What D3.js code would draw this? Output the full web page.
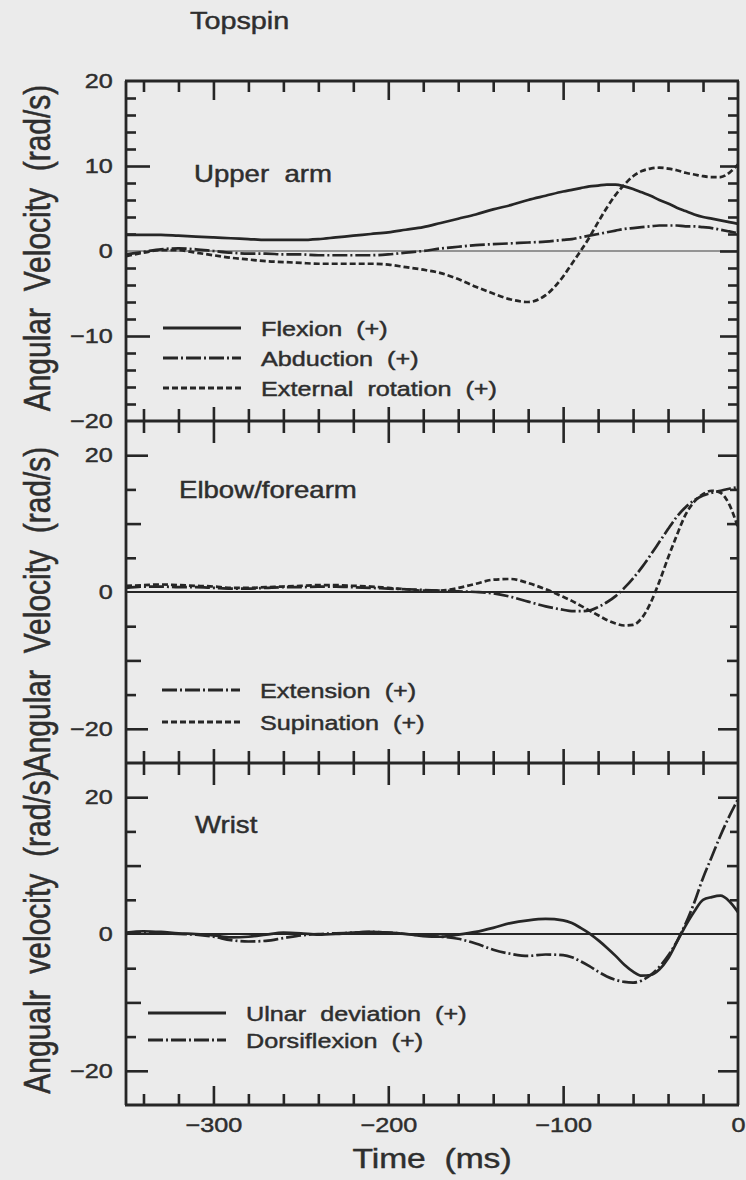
<!DOCTYPE html>
<html>
<head>
<meta charset="utf-8">
<script src="https://cdnjs.cloudflare.com/ajax/libs/d3/7.8.5/d3.min.js"></script>
<style>
  body { margin: 0; background: #ebebeb; }
  svg { display: block; }
  text { font-family: "Liberation Sans", Arial, sans-serif; fill: #2e2e2e; stroke: #2e2e2e; stroke-width: 0.45; white-space: pre; }
</style>
</head>
<body>
<svg></svg>
<script>
// time before impact (ms), shared by every curve
var timeMs = [-350,-340,-330,-320,-310,-300,-290,-280,-270,-260,-250,-240,-230,-220,-210,-200,-190,-180,-170,-160,
  -150,-140,-130,-120,-110,-100,-95,-90,-85,-80,-75,-70,-65,-60,-55,-50,-45,-40,-35,-30,-25,-20,-15,-10,-5,0];

// upper arm (rad/s)
var flexion = [1.9,1.9,1.9,1.8,1.7,1.6,1.5,1.4,1.3,1.3,1.3,1.4,1.6,1.8,2.0,2.2,2.5,2.8,3.3,3.8,
  4.3,4.9,5.4,6.0,6.5,7.0,7.2,7.4,7.6,7.7,7.8,7.8,7.6,7.3,6.9,6.5,6.0,5.6,5.1,4.7,4.3,4.0,3.8,3.6,3.4,3.2];
var abduction = [-0.4,-0.1,0.2,0.3,0.2,0.0,-0.2,-0.3,-0.3,-0.4,-0.4,-0.5,-0.5,-0.5,-0.5,-0.4,-0.2,0.0,0.3,0.5,
  0.7,0.8,0.9,1.0,1.1,1.3,1.4,1.6,1.8,2.0,2.2,2.4,2.6,2.7,2.8,2.9,3.0,3.0,3.0,2.9,2.9,2.8,2.7,2.5,2.3,2.1];
var externalRotation = [-0.6,-0.2,0.1,0.1,-0.2,-0.5,-0.8,-1.0,-1.2,-1.3,-1.4,-1.5,-1.5,-1.5,-1.5,-1.6,-1.9,-2.2,-2.6,-3.3,
  -4.2,-5.0,-5.7,-6.0,-5.2,-3.0,-1.5,0.0,1.6,3.4,5.1,6.6,7.8,8.8,9.4,9.7,9.8,9.7,9.5,9.2,9.0,8.8,8.7,8.7,9.2,10.2];

// elbow / forearm
var extension = [0.6,0.8,0.8,0.7,0.7,0.6,0.5,0.5,0.6,0.7,0.7,0.8,0.8,0.7,0.6,0.5,0.4,0.3,0.2,0.1,
  0.0,-0.2,-0.7,-1.4,-2.1,-2.6,-2.8,-2.8,-2.7,-2.2,-1.5,-0.6,0.6,2.0,3.6,5.4,7.3,9.2,11.0,12.4,13.4,14.1,14.5,14.8,15.1,15.3];
var supination = [0.9,1.0,1.1,1.0,0.9,0.8,0.6,0.6,0.7,0.8,0.9,1.0,1.0,0.9,0.8,0.6,0.4,0.2,0.2,0.6,
  1.2,1.8,1.9,1.3,0.4,-0.7,-1.3,-2.0,-2.7,-3.4,-4.1,-4.6,-4.9,-4.8,-3.8,-1.6,1.5,5.0,8.3,11.3,13.2,14.3,14.8,14.5,12.8,9.4];

// wrist
var ulnarDeviation = [0.2,0.4,0.3,0.1,0.0,-0.2,-0.5,-0.4,-0.1,0.2,0.1,-0.1,0.0,0.2,0.3,0.2,0.0,-0.3,-0.4,-0.1,
  0.3,0.9,1.6,2.0,2.2,2.0,1.6,0.9,0.1,-0.9,-2.0,-3.2,-4.5,-5.5,-6.1,-6.0,-5.2,-3.6,-1.2,1.2,3.3,5.0,5.4,5.6,4.8,3.2];
var dorsiflexion = [0.0,0.2,0.1,0.0,-0.1,-0.4,-0.9,-1.1,-1.0,-0.6,-0.2,0.0,0.1,0.2,0.3,0.2,0.0,-0.2,-0.4,-0.7,
  -1.4,-2.3,-2.9,-3.2,-3.0,-3.1,-3.4,-4.0,-4.7,-5.5,-6.2,-6.7,-7.0,-7.1,-6.8,-6.0,-4.8,-3.2,-1.1,1.5,4.6,8.2,11.3,14.4,17.2,19.7];

var panelNames = ["Upper  arm", "Elbow/forearm", "Wrist"];
var yTitles = ["Angular  Velocity  (rad/s)", "Angular  Velocity  (rad/s)", "Angualr  velocity  (rad/s)"];
var legendNames = [
  ["Flexion  (+)", "Abduction  (+)", "External  rotation  (+)"],
  ["Extension  (+)", "Supination  (+)"],
  ["Ulnar  deviation  (+)", "Dorsiflexion  (+)"]
];
var panelSeries = [[flexion, abduction, externalRotation], [extension, supination], [ulnarDeviation, dorsiflexion]];
var yDomains = [[-20, 20], [-25, 25], [-25, 25]];
var yTickLabels = [[20, 10, 0, -10, -20], [20, 0, -20], [20, 0, -20]];
var xTickLabels = [-300, -200, -100, 0];

// ---- layout / style ----
var w = 746, h = 1180;
var left = 126, right = 738;
var tops = [81, 421, 763], bottoms = [421, 763, 1105];
var ink = "#262626";
var stretch = 1.2;   // the scan is a little wide
var panelStyles = [["solid", "dashdot", "dashed"], ["dashdot", "dashed"], ["solid", "dashdot"]];
var dash = { solid: null, dashdot: "15,3,2,3", dashed: "6,3" };
var legendX = [163, 162, 148];
var legendRows = [[247, 277, 307], [269, 301], [250, 277]];
var nameX = [194, 179, 195], nameY = [101, 77, 70];
var titleY = [248, 610, 932];

var vis = d3.select("svg").attr("width", w).attr("height", h);
vis.append("rect").attr("width", w).attr("height", h).attr("fill", "#ebebeb");

var x = d3.scaleLinear().domain([-350, 0]).range([left, right]);
var ys = yDomains.map(function(d, i) {
  return d3.scaleLinear().domain(d).range([bottoms[i], tops[i]]);
});

function ticks(axisFn, scale, values, size, tx, ty) {
  var g = vis.append("g").attr("transform", "translate(" + tx + "," + ty + ")")
    .call(axisFn(scale).tickValues(values).tickSize(size).tickFormat(""));
  g.select(".domain").remove();
  g.selectAll("text").remove();
  g.selectAll("line").attr("stroke", ink).attr("stroke-width", 2.6);
}

function label(str, tx, ty, size, anchor, rot) {
  return vis.append("text")
    .attr("transform", "translate(" + tx + "," + ty + ") scale(" + stretch + ",1)" + (rot ? " rotate(-90)" : ""))
    .attr("font-size", size)
    .attr("text-anchor", anchor || "start")
    .text(str);
}

// zero lines
ys.forEach(function(y, i) {
  vis.append("line")
    .attr("x1", left).attr("x2", right)
    .attr("y1", y(0)).attr("y2", y(0))
    .attr("stroke", i === 0 ? "#777" : ink)
    .attr("stroke-width", i === 0 ? 1.6 : 2.2);
});

// time ticks on the top, the two panel seams and the bottom
var minorX = d3.range(-340, 0, 20).filter(function(v) { return v % 100 !== 0; });
var majorX = [-300, -200, -100];
ticks(d3.axisBottom, x, minorX, 11, 0, tops[0]);
ticks(d3.axisBottom, x, majorX, 19, 0, tops[0]);
[tops[1], tops[2]].forEach(function(yy) {
  ticks(d3.axisBottom, x, minorX, 12, 0, yy);
  ticks(d3.axisTop, x, minorX, 12, 0, yy);
  ticks(d3.axisBottom, x, majorX, 22, 0, yy);
  ticks(d3.axisTop, x, majorX, 14, 0, yy);
});
ticks(d3.axisTop, x, minorX, 11, 0, bottoms[2]);
ticks(d3.axisTop, x, majorX, 19, 0, bottoms[2]);

// velocity ticks
var y1Minor = d3.range(-18, 20, 2).filter(function(v) { return v % 10 !== 0; });
ticks(d3.axisRight, ys[0], y1Minor, 10, left, 0);
ticks(d3.axisRight, ys[0], [10, -10], 24, left, 0);
ticks(d3.axisLeft, ys[0], y1Minor, 10, right, 0);
ticks(d3.axisLeft, ys[0], [10, 0, -10], 18, right, 0);
[ys[1], ys[2]].forEach(function(y) {
  ticks(d3.axisRight, y, [15, 5, -5, -15], 10, left, 0);
  ticks(d3.axisRight, y, [10, -10], 15, left, 0);
  ticks(d3.axisRight, y, [20, -20], 22, left, 0);
  ticks(d3.axisLeft, y, [15, 5, -5, -15], 8, right, 0);
  ticks(d3.axisLeft, y, [10, -10], 11, right, 0);
  ticks(d3.axisLeft, y, [20, -20], 20, right, 0);
});

// frame
[tops[0], tops[1], tops[2], bottoms[2]].forEach(function(yy) {
  vis.append("line").attr("x1", left - 1).attr("x2", right + 1).attr("y1", yy).attr("y2", yy)
    .attr("stroke", ink).attr("stroke-width", 2.8);
});
[left, right].forEach(function(xx) {
  vis.append("line").attr("x1", xx).attr("x2", xx).attr("y1", tops[0]).attr("y2", bottoms[2])
    .attr("stroke", ink).attr("stroke-width", 2.8);
});

// tick labels
ys.forEach(function(y, i) {
  var g = vis.append("g").attr("transform", "translate(" + left + ",0)")
    .call(d3.axisLeft(y).tickValues(yTickLabels[i]).tickSize(0).tickPadding(11));
  g.select(".domain").remove();
  g.selectAll("text").attr("font-size", 21).attr("fill", "#2e2e2e")
    .attr("font-family", "Liberation Sans, Arial, sans-serif")
    .attr("transform", "scale(" + stretch + ",1)");
});
var gx = vis.append("g").attr("transform", "translate(0," + bottoms[2] + ")")
  .call(d3.axisBottom(x).tickValues(xTickLabels).tickSize(0).tickPadding(12));
gx.select(".domain").remove();
gx.selectAll("text").attr("font-size", 21).attr("fill", "#2e2e2e")
  .attr("font-family", "Liberation Sans, Arial, sans-serif")
  .attr("transform", "scale(" + stretch + ",1)");

// curves
panelSeries.forEach(function(series, p) {
  var line = d3.line()
    .x(function(d, i) { return x(timeMs[i]); })
    .y(function(d) { return ys[p](d); })
    .curve(d3.curveMonotoneX);
  series.forEach(function(values, s) {
    vis.append("path")
      .attr("d", line(values))
      .attr("fill", "none")
      .attr("stroke", ink)
      .attr("stroke-width", 2.7)
      .attr("stroke-dasharray", dash[panelStyles[p][s]]);
  });

  // panel name and legend
  label(panelNames[p], nameX[p], tops[p] + nameY[p], 23);
  legendNames[p].forEach(function(name, s) {
    var ly = tops[p] + legendRows[p][s];
    vis.append("line")
      .attr("x1", legendX[p]).attr("x2", legendX[p] + 78)
      .attr("y1", ly).attr("y2", ly)
      .attr("stroke", ink).attr("stroke-width", 2.8)
      .attr("stroke-dasharray", dash[panelStyles[p][s]]);
    label(name, legendX[p] + 98, ly + 8, 21);
  });

  label(yTitles[p], 50, titleY[p], 30, "middle", true);
});

label("Topspin", 190, 29, 24);
label("Time  (ms)", (left + right) / 2, 1168, 28, "middle");
</script>
</body>
</html>
